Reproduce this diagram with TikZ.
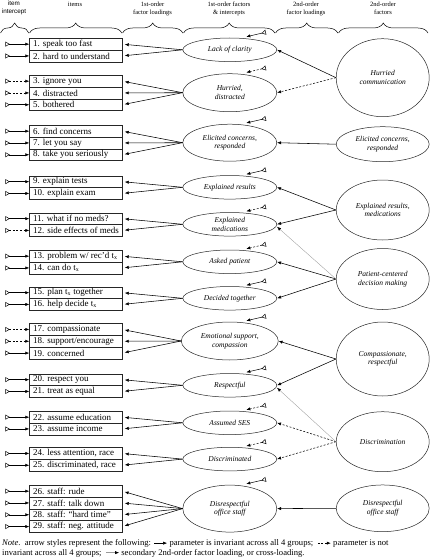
\documentclass[tikz,border=0pt]{standalone}
\usepackage{fontspec}
\setmainfont{Liberation Serif}
\newfontfamily\hsans{Liberation Sans}
\usetikzlibrary{shapes.geometric,arrows.meta,decorations.pathreplacing,calc}
\newcommand\itm[4]{%
  \node[itembox] (#1) at (29.3,#2) {\makebox[85.4pt][l]{#3}};
  \coordinate (#1t) at ($(#1.west)+(-24,0)$);
  \draw[#4] (#1t) -- (#1.west);}
\newcommand\fint[2]{%
  \coordinate (#1a) at ($(#1.north)+(16.5,-1)$);
  \coordinate (#1b) at ($(#1.north)+(36,-5.5)$);
  \draw[#2] (#1b) -- (#1a);}
\begin{document}
\begin{tikzpicture}[x=1pt,y=-1pt,
  itembox/.style={draw=black!85, line width=0.5pt, anchor=north west, minimum height=11.8pt, inner xsep=3.5pt, inner ysep=0pt, font=\fontsize{9}{10}\selectfont},
  fo/.style={ellipse, draw=black!85, line width=0.5pt, minimum width=94pt, inner sep=0pt, align=center, font=\itshape\fontsize{7.5}{8.6}\selectfont},
  so/.style={ellipse, draw=black!85, line width=0.5pt, minimum width=93pt, inner sep=0pt, align=center, font=\itshape\fontsize{7.5}{8.6}\selectfont},
  hdr/.style={align=center, inner sep=0pt, font=\fontsize{6.5}{8}\selectfont},
  brc/.style={decorate, decoration={brace, amplitude=10pt}, line width=0.5pt},
  inv/.style={line width=0.55pt, -{Latex[length=4pt,width=3.2pt]}},
  ninv/.style={inv, dash pattern=on 2pt off 1.6pt},
  xload/.style={line width=0.35pt, draw=black!40, -{Latex[length=4pt,width=3.2pt,black]}},
  icpt/.style={line width=0.5pt, {Triangle[open,reversed,length=4.5pt,width=5pt]}-{Latex[length=4pt,width=3.2pt]}},
  nicpt/.style={icpt, dash pattern=on 2pt off 1.6pt},
  notetxt/.style={anchor=base west, inner sep=0pt, font=\fontsize{8.6}{9.6}\selectfont}
]
\useasboundingbox (0,0) rectangle (432,559);

% headers
\node[hdr,font=\hsans\fontsize{6.3}{7.8}\selectfont] (h1) at (14,8) {item\\intercept};
\node[hdr] (h2) at (75,4.5) {items};
\node[hdr] (h3) at (152.5,8.7) {1st-order\\factor loadings};
\node[hdr] (h4) at (229,8.7) {1st-order factors\\\& intercepts};
\node[hdr] (h5) at (306,8.7) {2nd-order\\factor loadings};
\node[hdr] (h6) at (383,8.7) {2nd-order\\factors};
\coordinate (b0) at (0.5,33);
\coordinate (b1) at (28.8,33);
\coordinate (b2) at (29.6,33);
\coordinate (b3) at (121.8,33);
\coordinate (b4) at (122.6,33);
\coordinate (b5) at (182.8,33);
\coordinate (b6) at (183.6,33);
\coordinate (b7) at (274.8,33);
\coordinate (b8) at (275.6,33);
\coordinate (b9) at (337.8,33);
\coordinate (b10) at (338.6,33);
\coordinate (b11) at (428,33);
\draw[brc] (b0) -- (b1);
\draw[brc] (b2) -- (b3);
\draw[brc] (b4) -- (b5);
\draw[brc] (b6) -- (b7);
\draw[brc] (b8) -- (b9);
\draw[brc] (b10) -- (b11);

% items
\itm{i1}{38}{1. speak too fast}{icpt}
\itm{i2}{49.8}{2. hard to understand}{icpt}
\itm{i3}{75}{3. ignore you}{nicpt}
\itm{i4}{86.8}{4. distracted}{nicpt}
\itm{i5}{98.6}{5. bothered}{icpt}
\itm{i6}{125}{6. find concerns}{icpt}
\itm{i7}{136.8}{7. let you say}{icpt}
\itm{i8}{148.6}{8. take you seriously}{icpt}
\itm{i9}{175.5}{9. explain tests}{icpt}
\itm{i10}{187.3}{10. explain exam}{icpt}
\itm{i11}{212.5}{11. what if no meds?}{icpt}
\itm{i12}{224.3}{12. side effects of meds}{nicpt}
\itm{i13}{250}{13. problem w/ rec'd t\textsubscript{x}}{icpt}
\itm{i14}{261.8}{14. can do t\textsubscript{x}}{icpt}
\itm{i15}{286.5}{15. plan t\textsubscript{x} together}{icpt}
\itm{i16}{298.3}{16. help decide t\textsubscript{x}}{icpt}
\itm{i17}{323.3}{17. compassionate}{nicpt}
\itm{i18}{335.1}{18. support/encourage}{nicpt}
\itm{i19}{346.9}{19. concerned}{icpt}
\itm{i20}{373.5}{20. respect you}{icpt}
\itm{i21}{385.3}{21. treat as equal}{icpt}
\itm{i22}{411}{22. assume education}{icpt}
\itm{i23}{422.8}{23. assume income}{icpt}
\itm{i24}{447.3}{24. less attention, race}{icpt}
\itm{i25}{459.1}{25. discriminated, race}{icpt}
\itm{i26}{485}{26. staff: rude}{icpt}
\itm{i27}{496.8}{27. staff: talk down}{icpt}
\itm{i28}{508.6}{28. staff: ``hard time''}{icpt}
\itm{i29}{520.4}{29. staff: neg. attitude}{icpt}

% first-order factors
\node[fo, minimum height=23.6pt] (loc) at (229.8,49.8) {Lack of clarity};
\node[fo, minimum height=38pt] (hd) at (229.8,92.7) {Hurried,\\distracted};
\node[fo, minimum height=37pt] (ec) at (229.8,142.7) {Elicited concerns,\\responded};
\node[fo, minimum height=23.6pt] (er) at (229.8,187.3) {Explained results};
\node[fo, minimum height=23.6pt] (em) at (229.8,224.3) {Explained\\medications};
\node[fo, minimum height=23.6pt] (ap) at (229.8,261.8) {Asked patient};
\node[fo, minimum height=23.6pt] (dt) at (229.8,298.3) {Decided together};
\node[fo, minimum height=38pt, minimum width=97pt] (es) at (229.8,341) {Emotional support,\\compassion};
\node[fo, minimum height=23.6pt] (rs) at (229.8,385.3) {Respectful};
\node[fo, minimum height=23.6pt] (as) at (229.8,422.8) {Assumed SES};
\node[fo, minimum height=23.6pt] (dc) at (229.8,459.1) {Discriminated};
\node[fo, minimum height=47pt] (do) at (229.8,508.6) {Disrespectful\\office staff};

% first-order intercepts
\fint{loc}{icpt}
\fint{hd}{nicpt}
\fint{ec}{icpt}
\fint{er}{icpt}
\fint{em}{nicpt}
\fint{ap}{nicpt}
\fint{dt}{icpt}
\fint{es}{icpt}
\fint{rs}{icpt}
\fint{as}{nicpt}
\fint{dc}{nicpt}
\fint{do}{icpt}

% first-order loadings
\begin{scope}[shorten >=2.5pt]
\foreach \f/\i in {loc/i1,loc/i2,hd/i3,hd/i4,hd/i5,ec/i6,ec/i7,ec/i8,er/i9,er/i10,em/i11,em/i12,ap/i13,ap/i14,dt/i15,dt/i16,es/i17,es/i18,es/i19,rs/i20,rs/i21,as/i22,as/i23,dc/i24,dc/i25,do/i26,do/i27,do/i28,do/i29}
  \draw[inv] (\f.west) -- (\i.east);
\end{scope}

% second-order factors
\node[so, minimum height=78pt] (hc) at (382.7,77.7) {Hurried\\communication};
\node[so, minimum height=35pt] (ec2) at (382.7,144.2) {Elicited concerns,\\responded};
\node[so, minimum height=60pt] (erm) at (382.7,210) {Explained results,\\medications};
\node[so, minimum height=61pt] (pcd) at (382.7,279) {Patient-centered\\decision making};
\node[so, minimum height=74pt] (cr) at (382.7,359) {Compassionate,\\respectful};
\node[so, minimum height=60pt] (dis) at (382.7,441.7) {Discrimination};
\node[so, minimum height=46.7pt] (dos) at (382.7,508.3) {Disrespectful\\office staff};

% second-order loadings
\draw[inv] (hc.west) -- (loc.east);
\draw[ninv] (hc.west) -- (hd.east);
\draw[inv] (ec2.west) -- (ec.east);
\draw[inv] (erm.west) -- (er.east);
\draw[inv] (erm.west) -- (em.east);
\draw[inv] (pcd.west) -- (ap.east);
\draw[inv] (pcd.west) -- (dt.east);
\coordinate (emx) at ($(em.east)+(0,2.5)$);
\draw[xload] (pcd.west) -- (emx);
\draw[inv] (cr.west) -- (es.east);
\draw[inv] (cr.west) -- (rs.east);
\draw[ninv] (dis.west) -- (as.east);
\draw[ninv] (dis.west) -- (dc.east);
\coordinate (rsx) at ($(rs.east)+(0,2.5)$);
\draw[xload] (dis.west) -- (rsx);
\draw[inv] (dos.west) -- (do.east);

% note
\node[notetxt] (n1) at (2,545.5) {\textit{Note}.\ \ arrow styles represent the following: \tikz[baseline=-0.6ex]\draw[line width=0.5pt,-{Latex[length=4pt,width=3.2pt]}] (0pt,0pt) -- (13pt,0pt);\ parameter is invariant across all 4 groups;\ \ \tikz[baseline=-0.6ex]\draw[line width=0.5pt,dash pattern=on 2pt off 1.6pt,-{Latex[length=4pt,width=3.2pt]}] (0pt,0pt) -- (13pt,0pt);\ parameter is not};
\node[notetxt] (n2) at (2,555) {invariant across all 4 groups;\ \ \tikz[baseline=-0.6ex]\draw[line width=0.35pt,draw=black!40,-{Latex[length=4pt,width=3.2pt,black]}] (0pt,0pt) -- (13pt,0pt);\ secondary 2nd-order factor loading, or cross-loading.};
\end{tikzpicture}
\end{document}
